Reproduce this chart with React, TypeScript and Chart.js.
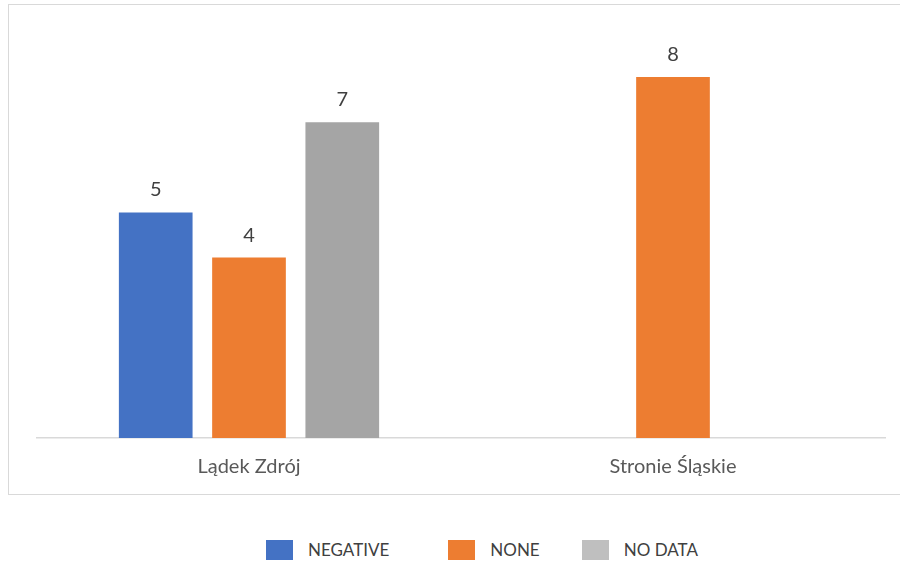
import React, { useEffect, useRef } from "react";
import { Chart, registerables } from "chart.js";

Chart.register(...registerables);

const categories = ["Lądek Zdrój", "Stronie Śląskie"];
const seriesNames = ["NEGATIVE", "NONE", "NO DATA"];
const negativeValues: (number | null)[] = [5, null];
const noneValues: (number | null)[] = [4, 8];
const noDataValues: (number | null)[] = [7, null];
const barColors = ["#4472C4", "#ED7D31", "#A5A5A5"];
const legendColors = ["#4472C4", "#ED7D31", "#BFBFBF"];
const legendGaps = [59, 42, 0];

const FONT = "Lato, 'Noto Sans', sans-serif";

// Writes each bar's value just above its top
const valueLabels = {
  id: "valueLabels",
  afterDatasetsDraw(chart: any) {
    const { ctx } = chart;
    ctx.save();
    ctx.font = `20px ${FONT}`;
    ctx.fillStyle = "#404040";
    ctx.textAlign = "center";
    ctx.textBaseline = "alphabetic";
    chart.data.datasets.forEach((ds: any, di: number) => {
      const meta = chart.getDatasetMeta(di);
      meta.data.forEach((bar: any, i: number) => {
        const v = ds.data[i];
        if (v === null || v === undefined) return;
        ctx.fillText(String(v), bar.x, bar.y - 16);
      });
    });
    ctx.restore();
  },
};

export default function App() {
  const canvasRef = useRef<HTMLCanvasElement | null>(null);

  useEffect(() => {
    if (!canvasRef.current) return;
    const chart = new Chart(canvasRef.current, {
      type: "bar",
      data: {
        labels: categories,
        datasets: [
          { label: seriesNames[0], data: negativeValues, backgroundColor: barColors[0] },
          { label: seriesNames[1], data: noneValues, backgroundColor: barColors[1] },
          { label: seriesNames[2], data: noDataValues, backgroundColor: barColors[2] },
        ],
      },
      options: {
        animation: false,
        responsive: false,
        maintainAspectRatio: false,
        datasets: {
          bar: { categoryPercentage: 0.66, barPercentage: 0.79 },
        },
        layout: { padding: { left: 28, right: 15, top: 27, bottom: 6 } },
        plugins: {
          legend: { display: false },
          tooltip: { enabled: false },
        },
        scales: {
          x: {
            grid: { display: false },
            border: { display: true, color: "#D9D9D9", width: 1.5 },
            ticks: {
              color: "#595959",
              font: { family: FONT, size: 20 },
              padding: 9,
            },
          },
          y: {
            display: false,
            min: 0,
            max: 9,
          },
        },
      },
      plugins: [valueLabels],
    });
    return () => chart.destroy();
  }, []);

  return (
    <div
      style={{
        position: "absolute",
        left: 0,
        top: 0,
        width: 900,
        height: 565,
        overflow: "hidden",
        background: "#fff",
        fontFamily: FONT,
      }}
    >
      <div
        style={{
          position: "absolute",
          left: 8,
          top: 4,
          width: 900,
          height: 489,
          border: "1.5px solid #D9D9D9",
        }}
      >
        <canvas ref={canvasRef} width={891} height={489} style={{ display: "block" }} />
      </div>
      <div
        style={{
          position: "absolute",
          left: 266,
          top: 540,
          display: "flex",
          alignItems: "center",
          fontSize: 17,
          color: "#404040",
        }}
      >
        {seriesNames.map((name, i) => (
          <div
            key={name}
            style={{ display: "flex", alignItems: "center", marginRight: legendGaps[i] }}
          >
            <span
              style={{
                display: "inline-block",
                width: 27,
                height: 20,
                background: legendColors[i],
                marginRight: 15,
              }}
            />
            <span style={{ lineHeight: "20px" }}>{name}</span>
          </div>
        ))}
      </div>
    </div>
  );
}
